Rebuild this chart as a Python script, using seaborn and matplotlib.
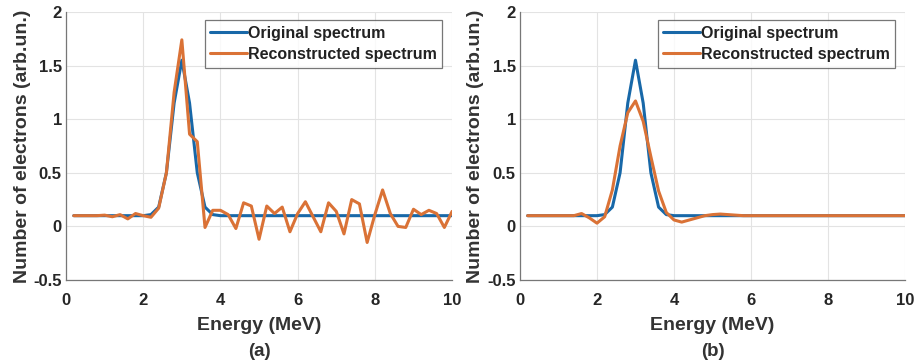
import matplotlib
matplotlib.use("Agg")
import matplotlib.pyplot as plt
import seaborn as sns
import pandas as pd

energy = [0.2, 0.4, 0.6, 0.8, 1.0, 1.2, 1.4, 1.6, 1.8, 2.0,
          2.2, 2.4, 2.6, 2.8, 3.0, 3.2, 3.4, 3.6, 3.8, 4.0,
          4.2, 4.4, 4.6, 4.8, 5.0, 5.2, 5.4, 5.6, 5.8, 6.0,
          6.2, 6.4, 6.6, 6.8, 7.0, 7.2, 7.4, 7.6, 7.8, 8.0,
          8.2, 8.4, 8.6, 8.8, 9.0, 9.2, 9.4, 9.6, 9.8, 10.0]

original = [0.10, 0.10, 0.10, 0.10, 0.10, 0.10, 0.10, 0.10, 0.10, 0.10,
            0.11, 0.18, 0.50, 1.15, 1.55, 1.15, 0.50, 0.18, 0.11, 0.10,
            0.10, 0.10, 0.10, 0.10, 0.10, 0.10, 0.10, 0.10, 0.10, 0.10,
            0.10, 0.10, 0.10, 0.10, 0.10, 0.10, 0.10, 0.10, 0.10, 0.10,
            0.10, 0.10, 0.10, 0.10, 0.10, 0.10, 0.10, 0.10, 0.10, 0.10]

recon_a = [0.10, 0.10, 0.10, 0.10, 0.105, 0.09, 0.11, 0.07, 0.12, 0.10,
           0.085, 0.17, 0.50, 1.25, 1.74, 0.86, 0.79, -0.01, 0.15, 0.15,
           0.11, -0.02, 0.22, 0.19, -0.12, 0.19, 0.12, 0.18, -0.05, 0.12,
           0.23, 0.09, -0.05, 0.22, 0.14, -0.07, 0.25, 0.21, -0.15, 0.11,
           0.34, 0.12, 0.00, -0.01, 0.16, 0.11, 0.15, 0.12, -0.01, 0.14]

recon_b = [0.10, 0.10, 0.10, 0.10, 0.10, 0.10, 0.10, 0.12, 0.08, 0.03,
           0.09, 0.34, 0.75, 1.06, 1.17, 0.98, 0.65, 0.33, 0.13, 0.06,
           0.04, 0.06, 0.08, 0.10, 0.11, 0.115, 0.11, 0.105, 0.10, 0.10,
           0.10, 0.10, 0.10, 0.10, 0.10, 0.10, 0.10, 0.10, 0.10, 0.10,
           0.10, 0.10, 0.10, 0.10, 0.10, 0.10, 0.10, 0.10, 0.10, 0.10]

series_names = ["Original spectrum", "Reconstructed spectrum"]
panel_labels = ["(a)", "(b)"]
xticks = [0, 2, 4, 6, 8, 10]
yticks = [-0.5, 0, 0.5, 1, 1.5, 2]
ytick_labels = ["-0.5", "0", "0.5", "1", "1.5", "2"]

sns.set_theme(style="white")
plt.rcParams["font.family"] = ["Liberation Sans", "DejaVu Sans"]
plt.rcParams["font.weight"] = "bold"

palette = {series_names[0]: "#1868A8", series_names[1]: "#DA7236"}

fig = plt.figure(figsize=(9.17, 3.62), dpi=100)
ax_a = fig.add_axes([0.072, 0.2265, 0.421, 0.7405])
ax_b = fig.add_axes([0.567, 0.2265, 0.420, 0.7405])

for ax, recon, lab in [(ax_a, recon_a, panel_labels[0]), (ax_b, recon_b, panel_labels[1])]:
    df = pd.DataFrame({
        "Energy": energy + energy,
        "Value": original + recon,
        "Series": [series_names[0]] * len(energy) + [series_names[1]] * len(energy),
    })
    sns.lineplot(data=df, x="Energy", y="Value", hue="Series", palette=palette,
                 linewidth=2.2, ax=ax, sort=False)
    ax.set_xlim(0, 10)
    ax.set_ylim(-0.5, 2)
    ax.set_xticks(xticks)
    ax.set_yticks(yticks)
    ax.set_yticklabels(ytick_labels)
    ax.grid(True, color="#e3e3e3", linewidth=0.8)
    ax.set_axisbelow(True)
    for s in ["top", "right"]:
        ax.spines[s].set_visible(False)
    for s in ["left", "bottom"]:
        ax.spines[s].set_color("#777777")
        ax.spines[s].set_linewidth(0.9)
    ax.tick_params(axis="both", direction="in", length=3, width=0.8, color="#777777",
                   labelsize=12, labelcolor="#262626")
    ax.tick_params(axis="y", pad=3)
    ax.tick_params(axis="x", pad=9)
    for t in ax.get_xticklabels() + ax.get_yticklabels():
        t.set_fontweight("bold")
    ax.set_xlabel("Energy (MeV)", fontsize=14, fontweight="bold", color="#333333", labelpad=7)
    ax.set_ylabel("Number of electrons (arb.un.)", fontsize=14, fontweight="bold",
                  color="#333333", labelpad=2)
    ax.text(0.5, -0.265, lab, transform=ax.transAxes, ha="center", va="center",
            fontsize=13.5, fontweight="bold", color="#333333")
    leg = ax.legend(loc="upper right", bbox_to_anchor=(0.975, 0.97), frameon=True,
                    fancybox=False, fontsize=11.5, handlelength=2.3, handletextpad=0.05,
                    labelspacing=0.4, borderpad=0.35, borderaxespad=0)
    leg.get_frame().set_edgecolor("#555555")
    leg.get_frame().set_linewidth(0.9)
    for t in leg.get_texts():
        t.set_fontweight("bold")
        t.set_color("#222222")

fig.savefig("out.png", dpi=100, facecolor="white")
